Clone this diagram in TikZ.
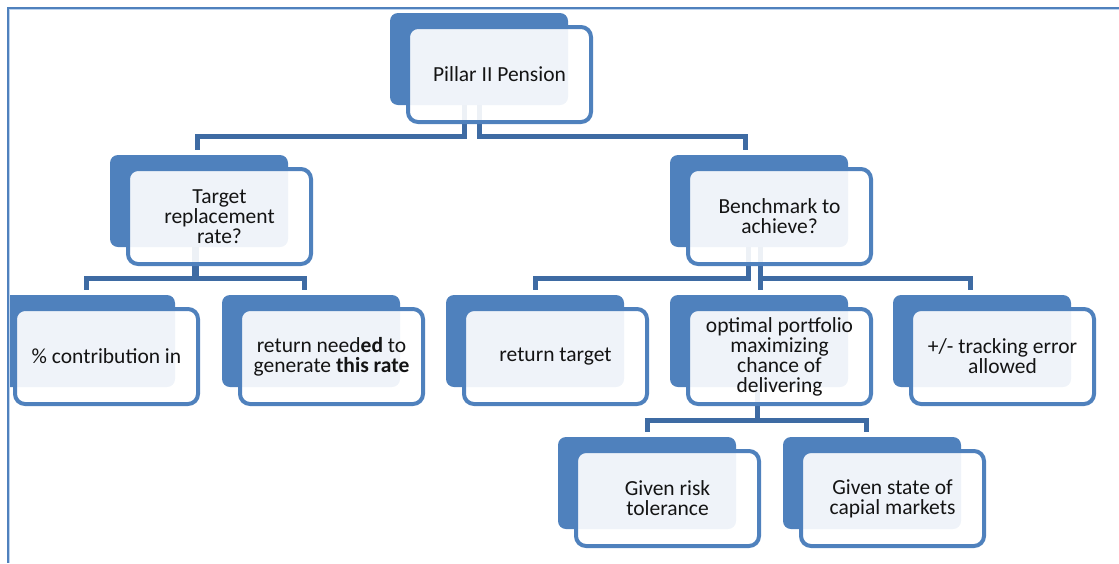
\documentclass[tikz,border=0pt]{standalone}
\usepackage{fontspec}
\setmainfont{Carlito}
\definecolor{boxblue}{HTML}{4F81BD}
\definecolor{connblue}{HTML}{3E6BA3}
\definecolor{framelight}{HTML}{BCD3EE}
\definecolor{txt}{HTML}{141414}
\begin{document}
\begin{tikzpicture}[x=1pt,y=-1pt,
  backbox/.style={fill=boxblue,draw=none,rounded corners=8pt,minimum width=178pt,minimum height=92pt,inner sep=0pt},
  frontbox/.style={draw=boxblue,line width=4pt,fill=white,fill opacity=0.91,text opacity=1,rounded corners=10pt,
    minimum width=183pt,minimum height=95pt,inner sep=0pt,align=center,text=txt,
    font=\fontsize{21.5}{20}\selectfont},
  conn/.style={draw=connblue,line width=5pt},
  frameline/.style={draw=boxblue,line width=2.2pt}]
\useasboundingbox (0,0) rectangle (1119,563);
\begin{scope}
\clip (9,0) rectangle (1119,563);
\coordinate (fA) at (1119,8);
\coordinate (fB) at (8,8);
\coordinate (fC) at (8,563);
% back boxes
\node[backbox] (rootB) at (479,59) {};
\node[backbox] (targetB) at (199,201) {};
\node[backbox] (benchB) at (759,201) {};
\node[backbox] (contribB) at (86,341) {};
\node[backbox] (neededB) at (311,341) {};
\node[backbox] (rtargetB) at (535,341) {};
\node[backbox] (optimalB) at (759,341) {};
\node[backbox] (trackingB) at (982,341) {};
\node[backbox] (riskB) at (647,483) {};
\node[backbox] (stateB) at (872,483) {};
% connectors
\draw[conn] ([xshift=-15pt]rootB.south) -- ++(0,31) -| ([xshift=-2pt,yshift=5pt]targetB.north);
\draw[conn] (rootB.south) -- ++(0,31) -| ([xshift=-14pt,yshift=5pt]benchB.north);
\draw[conn] ([xshift=-5pt]targetB.south) -- ++(0,31) -| ([yshift=5pt]contribB.north);
\draw[conn] ([xshift=-3pt]targetB.south) -- ++(0,31) -| ([xshift=-7pt,yshift=5pt]neededB.north);
\draw[conn] ([xshift=-11pt]benchB.south) -- ++(0,31) -| ([yshift=5pt]rtargetB.north);
\draw[conn] ([xshift=1pt]benchB.south) -- ([xshift=1pt,yshift=5pt]optimalB.north);
\draw[conn] ([xshift=1pt]benchB.south) -- ++(0,31) -| ([xshift=-12pt,yshift=5pt]trackingB.north);
\draw[conn] ([xshift=-2pt]optimalB.south) -- ++(0,33) -| ([yshift=5pt]riskB.north);
\draw[conn] ([xshift=-2pt]optimalB.south) -- ++(0,33) -| ([xshift=-6pt,yshift=5pt]stateB.north);
% front boxes
\node[frontbox] (root) at (499.5,74.5) {Pillar II Pension};
\node[frontbox] (target) at (219.5,216.5) {Target\\replacement\\rate?};
\node[frontbox] (bench) at (779.5,216.5) {Benchmark to\\achieve?};
\node[frontbox] (contrib) at (106.5,356.5) {\% contribution in};
\node[frontbox] (needed) at (331.5,356.5) {return need\textbf{ed} to\\generate \textbf{this rate}};
\node[frontbox] (rtarget) at (555.5,356.5) {return target};
\node[frontbox] (optimal) at (779.5,356.5) {optimal portfolio\\maximizing\\chance of\\delivering};
\node[frontbox] (tracking) at (1002.5,356.5) {+/- tracking error\\allowed};
\node[frontbox] (risk) at (667.5,498.5) {Given risk\\tolerance};
\node[frontbox] (state) at (892.5,498.5) {Given state of\\capial markets};
\end{scope}
% frame
\draw[framelight,line width=1pt] ([yshift=-1.8pt]fA) -- ([xshift=1.8pt,yshift=-1.8pt]fB) -- ([xshift=1.8pt]fC);
\draw[frameline] (fA) -- (fB) -- (fC);
\end{tikzpicture}
\end{document}
